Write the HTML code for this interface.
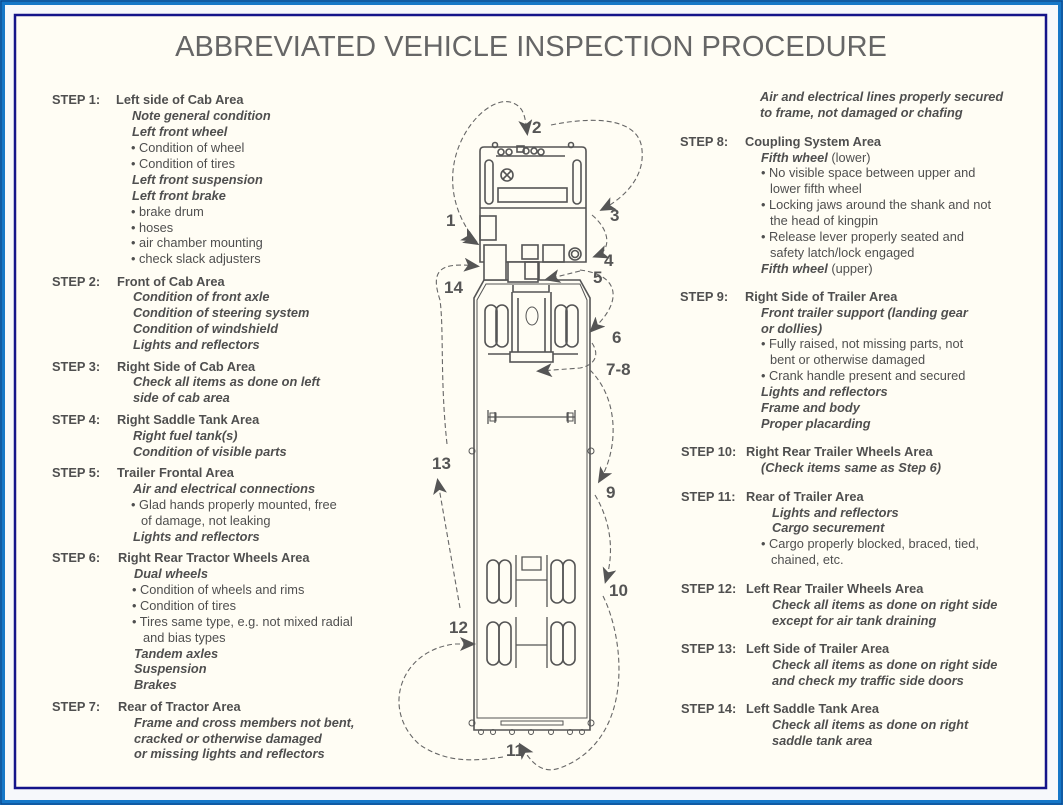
<!DOCTYPE html>
<html><head><meta charset="utf-8"><style>
html,body{margin:0;padding:0;background:#fff}
svg{display:block}
text{font-family:"Liberation Sans",Arial,sans-serif;font-size:12.8px;fill:#4f4f4f}
.s,.h{font-weight:bold}
.i{font-weight:bold;font-style:italic}
.num{font-weight:bold;font-size:17px;fill:#555}
.d{fill:none;stroke:#666;stroke-width:1.1;stroke-dasharray:5 3}
.t{fill:none;stroke:#555;stroke-width:1.6}
</style></head><body>
<svg width="1063" height="805" viewBox="0 0 1063 805" xmlns="http://www.w3.org/2000/svg">
<defs><marker id="a" markerWidth="16" markerHeight="14" refX="12" refY="7" orient="auto" markerUnits="userSpaceOnUse"><path d="M0,0 L16,7 L0,14 L4,7 Z" fill="#555"/></marker></defs>
<rect x="0" y="0" width="1063" height="805" fill="#1577c8"/>
<rect x="1" y="1" width="1061" height="803" fill="none" stroke="#0a3f80" stroke-width="1"/>
<rect x="5" y="5" width="1053" height="795" fill="#f6f8fb"/>
<rect x="15" y="15" width="1031" height="773" fill="#fffdf4" stroke="#14148a" stroke-width="2.5"/>
<text x="531" y="56" text-anchor="middle" style="font-size:29px;fill:#666">ABBREVIATED VEHICLE INSPECTION PROCEDURE</text>

<g>
<text class="s" x="52" y="104">STEP 1:</text><text class="h" x="116" y="104">Left side of Cab Area</text>
<text class="i" x="132" y="120">Note general condition</text>
<text class="i" x="132" y="136">Left front wheel</text>
<text x="131" y="152">• Condition of wheel</text>
<text x="131" y="168">• Condition of tires</text>
<text class="i" x="132" y="184">Left front suspension</text>
<text class="i" x="132" y="200">Left front brake</text>
<text x="131" y="216">• brake drum</text>
<text x="131" y="232">• hoses</text>
<text x="131" y="247">• air chamber mounting</text>
<text x="131" y="263">• check slack adjusters</text>

<text class="s" x="52" y="286">STEP 2:</text><text class="h" x="117" y="286">Front of Cab Area</text>
<text class="i" x="133" y="301">Condition of front axle</text>
<text class="i" x="133" y="317">Condition of steering system</text>
<text class="i" x="133" y="333">Condition of windshield</text>
<text class="i" x="133" y="349">Lights and reflectors</text>

<text class="s" x="52" y="371">STEP 3:</text><text class="h" x="117" y="371">Right Side of Cab Area</text>
<text class="i" x="133" y="386">Check all items as done on left</text>
<text class="i" x="133" y="402">side of cab area</text>

<text class="s" x="52" y="424">STEP 4:</text><text class="h" x="117" y="424">Right Saddle Tank Area</text>
<text class="i" x="133" y="440">Right fuel tank(s)</text>
<text class="i" x="133" y="456">Condition of visible parts</text>

<text class="s" x="52" y="477">STEP 5:</text><text class="h" x="117" y="477">Trailer Frontal Area</text>
<text class="i" x="133" y="493">Air and electrical connections</text>
<text x="131" y="509">• Glad hands properly mounted, free</text>
<text x="141" y="525">of damage, not leaking</text>
<text class="i" x="133" y="541">Lights and reflectors</text>

<text class="s" x="52" y="562">STEP 6:</text><text class="h" x="118" y="562">Right Rear Tractor Wheels Area</text>
<text class="i" x="134" y="578">Dual wheels</text>
<text x="132" y="594">• Condition of wheels and rims</text>
<text x="132" y="610">• Condition of tires</text>
<text x="132" y="626">• Tires same type, e.g. not mixed radial</text>
<text x="143" y="642">and bias types</text>
<text class="i" x="134" y="658">Tandem axles</text>
<text class="i" x="134" y="673">Suspension</text>
<text class="i" x="134" y="689">Brakes</text>

<text class="s" x="52" y="711">STEP 7:</text><text class="h" x="118" y="711">Rear of Tractor Area</text>
<text class="i" x="134" y="727">Frame and cross members not bent,</text>
<text class="i" x="134" y="743">cracked or otherwise damaged</text>
<text class="i" x="134" y="758">or missing lights and reflectors</text>
</g>

<g>
<text class="i" x="760" y="101">Air and electrical lines properly secured</text>
<text class="i" x="760" y="117">to frame, not damaged or chafing</text>

<text class="s" x="680" y="146">STEP 8:</text><text class="h" x="745" y="146">Coupling System Area</text>
<text x="761" y="162"><tspan class="i">Fifth wheel</tspan> (lower)</text>
<text x="761" y="177">• No visible space between upper and</text>
<text x="770" y="193">lower fifth wheel</text>
<text x="761" y="209">• Locking jaws around the shank and not</text>
<text x="770" y="225">the head of kingpin</text>
<text x="761" y="241">• Release lever properly seated and</text>
<text x="770" y="257">safety latch/lock engaged</text>
<text x="761" y="273"><tspan class="i">Fifth wheel</tspan> (upper)</text>

<text class="s" x="680" y="301">STEP 9:</text><text class="h" x="745" y="301">Right Side of Trailer Area</text>
<text class="i" x="761" y="317">Front trailer support (landing gear</text>
<text class="i" x="761" y="333">or dollies)</text>
<text x="761" y="348">• Fully raised, not missing parts, not</text>
<text x="770" y="364">bent or otherwise damaged</text>
<text x="761" y="380">• Crank handle present and secured</text>
<text class="i" x="761" y="396">Lights and reflectors</text>
<text class="i" x="761" y="412">Frame and body</text>
<text class="i" x="761" y="428">Proper placarding</text>

<text class="s" x="681" y="456">STEP 10:</text><text class="h" x="746" y="456">Right Rear Trailer Wheels Area</text>
<text class="i" x="761" y="472">(Check items same as Step 6)</text>

<text class="s" x="681" y="501">STEP 11:</text><text class="h" x="746" y="501">Rear of Trailer Area</text>
<text class="i" x="772" y="517">Lights and reflectors</text>
<text class="i" x="772" y="532">Cargo securement</text>
<text x="761" y="548">• Cargo properly blocked, braced, tied,</text>
<text x="771" y="564">chained, etc.</text>

<text class="s" x="681" y="593">STEP 12:</text><text class="h" x="746" y="593">Left Rear Trailer Wheels Area</text>
<text class="i" x="772" y="609">Check all items as done on right side</text>
<text class="i" x="772" y="625">except for air tank draining</text>

<text class="s" x="681" y="653">STEP 13:</text><text class="h" x="746" y="653">Left Side of Trailer Area</text>
<text class="i" x="772" y="669">Check all items as done on right side</text>
<text class="i" x="772" y="685">and check my traffic side doors</text>

<text class="s" x="681" y="713">STEP 14:</text><text class="h" x="746" y="713">Left Saddle Tank Area</text>
<text class="i" x="772" y="729">Check all items as done on right</text>
<text class="i" x="772" y="745">saddle tank area</text>
</g>

<g class="t">
<path d="M474,730 L474,298 L484,280 L580,280 L590,298 L590,730 Z"/>
<path d="M477,300 L486,284 L580,284 L587,300 L587,718 L477,718 Z" stroke-width="1"/>
<path d="M480,262 L480,151 Q480,147 484,147 L582,147 Q586,147 586,151 L586,262 Z" fill="#fffdf4"/>
<line x1="480" y1="208" x2="586" y2="208"/>
<rect x="485" y="160" width="8" height="44" rx="4"/>
<rect x="573" y="160" width="8" height="44" rx="4"/>
<line x1="496" y1="156" x2="565" y2="156"/>
<rect x="498" y="188" width="69" height="14"/>
<circle cx="507" cy="175" r="6"/>
<path d="M503,171 L511,179 M511,171 L503,179"/>
<rect x="480" y="216" width="16" height="24"/>
<circle cx="501" cy="152" r="3"/><circle cx="509" cy="152" r="3"/><circle cx="526" cy="151" r="3"/><circle cx="534" cy="151" r="3"/><circle cx="541" cy="152" r="3"/><circle cx="571" cy="145" r="2.5"/><circle cx="495" cy="145" r="2.5"/>
<rect x="517" y="146" width="7" height="6"/>
<rect x="484" y="245" width="22" height="35" fill="#fffdf4"/>
<rect x="522" y="245" width="16" height="14"/>
<rect x="543" y="245" width="21" height="17"/>
<circle cx="575" cy="254" r="6"/><circle cx="575" cy="254" r="3.5"/>
<rect x="508" y="262" width="30" height="20" fill="#fffdf4"/>
<rect x="525" y="262" width="14" height="17"/>
<path d="M513,285 L513,292 L549,292 L549,285 M512,292 L512,352 M551,292 L551,352 M518,298 L518,352 M545,298 L545,352"/>
<rect x="510" y="352" width="43" height="10"/>
<line x1="488" y1="354" x2="510" y2="354"/><line x1="553" y1="354" x2="578" y2="354"/>
<ellipse cx="532" cy="316" rx="6" ry="9" stroke-width="1"/>
<rect x="485" y="305" width="12" height="42" rx="6"/><rect x="496" y="305" width="12" height="42" rx="6"/>
<rect x="555" y="305" width="12" height="42" rx="6"/><rect x="566" y="305" width="12" height="42" rx="6"/>
<path d="M488,410 L488,424 M495,412 L495,423 M488,417 L575,417 M568,412 L568,423 M575,410 L575,424" stroke-width="1.3"/>
<rect x="490" y="413" width="6" height="8" stroke-width="1"/><rect x="567" y="413" width="6" height="8" stroke-width="1"/>
<rect x="487" y="560" width="12" height="43" rx="6"/><rect x="499" y="560" width="12" height="43" rx="6"/>
<rect x="551" y="560" width="12" height="43" rx="6"/><rect x="563" y="560" width="12" height="43" rx="6"/>
<rect x="487" y="622" width="12" height="43" rx="6"/><rect x="499" y="622" width="12" height="43" rx="6"/>
<rect x="551" y="622" width="12" height="43" rx="6"/><rect x="563" y="622" width="12" height="43" rx="6"/>
<path d="M516,555 L516,607 M547,555 L547,607 M516,580 L547,580 M522,557 L541,557 L541,570 L522,570 Z M516,617 L516,668 M547,617 L547,668 M516,645 L547,645" stroke-width="1.3"/>
<rect x="501" y="721" width="62" height="4" stroke-width="1"/>
<g stroke-width="1"><circle cx="472" cy="451" r="3"/><circle cx="591" cy="451" r="3"/><circle cx="472" cy="723" r="3"/><circle cx="591" cy="723" r="3"/><circle cx="481" cy="732" r="2.5"/><circle cx="493" cy="732" r="2.5"/><circle cx="512" cy="732" r="2.5"/><circle cx="531" cy="732" r="2.5"/><circle cx="551" cy="732" r="2.5"/><circle cx="570" cy="732" r="2.5"/><circle cx="582" cy="732" r="2.5"/></g>
</g>

<g class="d">
<path d="M475,240 C420,170 480,95 510,102 C525,106 525,118 527,132" marker-end="url(#a)"/>
<path d="M451,227 L474,240" marker-end="url(#a)" stroke-dasharray="none" stroke-width="0"/>
<path d="M551,125 C600,115 640,120 642,150 C645,180 620,200 603,209" marker-end="url(#a)"/>
<path d="M592,215 C610,230 612,250 596,256" marker-end="url(#a)"/>
<path d="M580,271 L548,279" marker-end="url(#a)"/>
<path d="M580,270 C620,275 620,300 600,322 L592,330" marker-end="url(#a)"/>
<path d="M592,343 C600,355 595,365 580,368 L540,371" marker-end="url(#a)"/>
<path d="M590,370 C620,400 618,450 600,480" marker-end="url(#a)"/>
<path d="M595,495 C610,520 615,550 606,580" marker-end="url(#a)"/>
<path d="M603,596 C625,640 635,740 560,768 C540,775 530,760 521,746" marker-end="url(#a)"/>
<path d="M503,757 C480,760 450,765 420,745 C380,710 400,650 455,644 L472,644" marker-end="url(#a)"/>
<path d="M460,608 L438,482" marker-end="url(#a)"/>
<path d="M447,444 C440,380 444,330 440,300 C430,270 440,262 476,266" marker-end="url(#a)"/>
</g>
<path d="M458,232 L476,243" stroke="#555" stroke-width="0" marker-end="url(#a)"/>
<g>
<text class="num" x="532" y="133">2</text>
<text class="num" x="610" y="221">3</text>
<text class="num" x="446" y="226">1</text>
<text class="num" x="604" y="266">4</text>
<text class="num" x="593" y="283">5</text>
<text class="num" x="444" y="293">14</text>
<text class="num" x="612" y="343">6</text>
<text class="num" x="606" y="375">7-8</text>
<text class="num" x="432" y="469">13</text>
<text class="num" x="606" y="498">9</text>
<text class="num" x="609" y="596">10</text>
<text class="num" x="449" y="633">12</text>
<text class="num" x="506" y="756">11</text>
</g>
</svg>
</body></html>
